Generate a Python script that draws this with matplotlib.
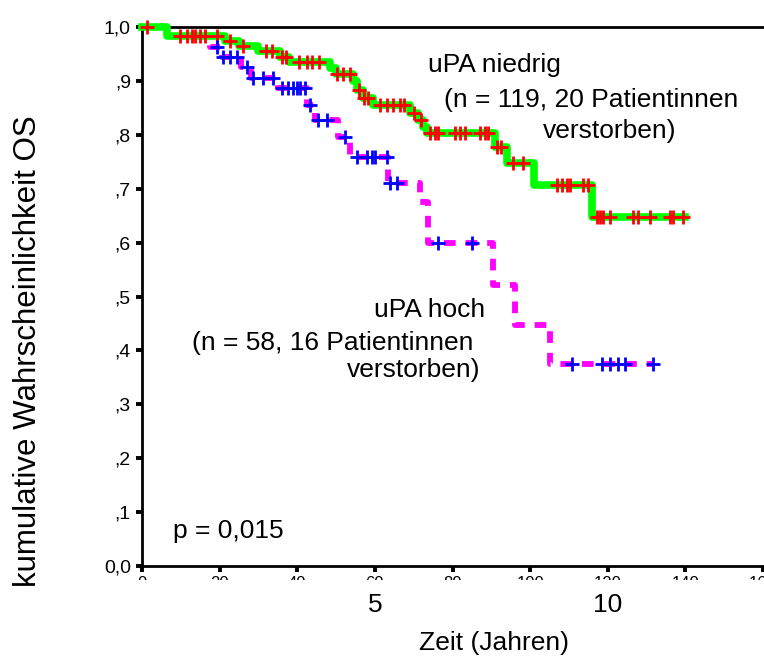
import numpy as np
import matplotlib
matplotlib.use('Agg')
import matplotlib.pyplot as plt
from matplotlib.patches import Rectangle
from matplotlib.transforms import blended_transform_factory

plt.rcParams['font.family'] = ['Liberation Sans', 'DejaVu Sans']

# ---------------- data (months, cumulative survival) ----------------
low_time = [0, 6.4, 21.5, 25, 30, 35.5, 38, 48.4, 50, 54.4, 55.5, 57, 59.5,
            69, 71, 72.5, 73.5, 91, 94, 101, 116, 140]
low_surv = [1.0, 0.983, 0.974, 0.965, 0.955, 0.945, 0.935, 0.924, 0.913, 0.900,
            0.883, 0.868, 0.855, 0.840, 0.827, 0.815, 0.803, 0.777, 0.748,
            0.707, 0.647, 0.647]
low_censored = [1.3, 9.8, 11.6, 12.9, 13.7, 15, 16.2, 19.3, 22.7, 26, 32, 33.5,
                36, 37, 40.5, 42.6, 43.9, 45.6, 50.2, 51.8, 53.6, 55.8, 57.3,
                58.3, 61.3, 63, 64.7, 66.5, 67.5, 70.2, 72, 74.2, 75.5, 76.3,
                80.6, 81.9, 83.2, 87.1, 88.4, 89.2, 91.5, 92.5, 95.6, 98.2,
                107, 108.2, 109.5, 110.3, 113.6, 114.9, 117.2, 118, 118.8,
                120.6, 126.5, 127.8, 130.9, 136, 136.8, 139.4]

high_time = [0, 6.4, 17.5, 20.5, 25.5, 28, 35, 42.5, 44.5, 50.5, 53.6, 63.5,
             71.5, 73.7, 90.5, 96, 105, 131.7]
high_surv = [1.0, 0.983, 0.963, 0.944, 0.926, 0.905, 0.887, 0.855, 0.827,
             0.796, 0.759, 0.711, 0.675, 0.600, 0.521, 0.447, 0.375, 0.375]
high_censored = [19.3, 20.9, 22.7, 24.5, 27, 28.6, 31.2, 33.8, 36, 37.6, 38.9,
                 40, 40.7, 42, 43.3, 45.3, 47.7, 52.3, 55.4, 58, 59.3, 60, 63.1,
                 63.9, 65.7, 76.3, 85, 110.8, 118.5, 120.6, 122.7, 124.5, 131.7]

month_ticks = [0, 20, 40, 60, 80, 100, 120, 140, 160]
year_ticks = [60, 120]
year_labels = ['5', '10']
y_ticks = [0.0, 0.1, 0.2, 0.3, 0.4, 0.5, 0.6, 0.7, 0.8, 0.9, 1.0]
y_labels = ['0,0', ',1', ',2', ',3', ',4', ',5', ',6', ',7', ',8', ',9', '1,0']


def surv_at(times, survs, t):
    times = np.asarray(times)
    idx = np.searchsorted(times, t, side='right') - 1
    return np.asarray(survs)[idx]


# ---------------- figure ----------------
W, H = 764, 664
fig = plt.figure(figsize=(W / 100, H / 100), dpi=100)
L, R, T, B = 142, 763, 27, 566
ax = fig.add_axes([L / W, 1 - B / H, (R - L) / W, (B - T) / H])
ax.set_xlim(0, 160)
ax.set_ylim(0, 1)

ax.spines['right'].set_visible(False)
for s in ['left', 'bottom', 'top']:
    ax.spines[s].set_linewidth(2)
    ax.spines[s].set_zorder(2.5)

# curves
ax.step(high_time, high_surv, where='post', color='#ff00ff', lw=4.2,
        ls=(0, (2.0, 1.7)), dash_capstyle='butt', zorder=3, clip_on=False)
ax.step(low_time, low_surv, where='post', color='#00ff00', lw=5.5,
        zorder=3.2, clip_on=False)

ax.plot(low_censored, surv_at(low_time, low_surv, low_censored), ls='none',
        marker='+', ms=10, mew=2, color='#ff0000', zorder=4, clip_on=False)
ax.plot(high_censored, surv_at(high_time, high_surv, high_censored), ls='none',
        marker='+', ms=10, mew=2, color='#0000ff', zorder=4, clip_on=False)

# ticks
ax.set_yticks(y_ticks)
ax.set_yticklabels(y_labels)
ax.set_xticks(month_ticks)
ax.set_xticklabels([str(m) for m in month_ticks])
ax.tick_params(axis='both', direction='out', length=4.5, width=2.8,
               labelsize=14, pad=3.5)
ax.tick_params(axis='x', labelsize=12, pad=3)

# the month labels are almost hidden in the original: only their top shows
fig.add_artist(Rectangle((0, 0), 1, 1 - 580 / H, transform=fig.transFigure,
                         facecolor='white', edgecolor='none', zorder=5))

FS = 19
def fy(y):
    return 1 - y / H

# year labels below the axis
yr_tr = blended_transform_factory(ax.transData, fig.transFigure)
for xv, lab in zip(year_ticks, year_labels):
    fig.text(xv, fy(612), lab, transform=yr_tr, ha='center', va='baseline',
             fontsize=FS, zorder=6)

fig.text(494 / W, fy(650), 'Zeit (Jahren)', ha='center', va='baseline',
         fontsize=FS, zorder=6)
fig.text(28.5 / W, fy(351), 'kumulative Wahrscheinlichkeit OS', rotation=90,
         ha='center', va='center', fontsize=22.5, zorder=6)

# annotations
fig.text(494.5 / W, fy(72), 'uPA niedrig', ha='center', va='baseline', fontsize=FS)
fig.text(591 / W, fy(107), '(n = 119, 20 Patientinnen', ha='center', va='baseline', fontsize=FS)
fig.text(610 / W, fy(138), 'verstorben)', ha='center', va='baseline', fontsize=FS)

fig.text(429.5 / W, fy(317), 'uPA hoch', ha='center', va='baseline', fontsize=FS)
fig.text(332.5 / W, fy(350), '(n = 58, 16 Patientinnen', ha='center', va='baseline', fontsize=FS)
fig.text(414 / W, fy(377), 'verstorben)', ha='center', va='baseline', fontsize=FS)

fig.text(228.5 / W, fy(538), 'p = 0,015', ha='center', va='baseline', fontsize=FS)

fig.savefig('out.png', dpi=100)
